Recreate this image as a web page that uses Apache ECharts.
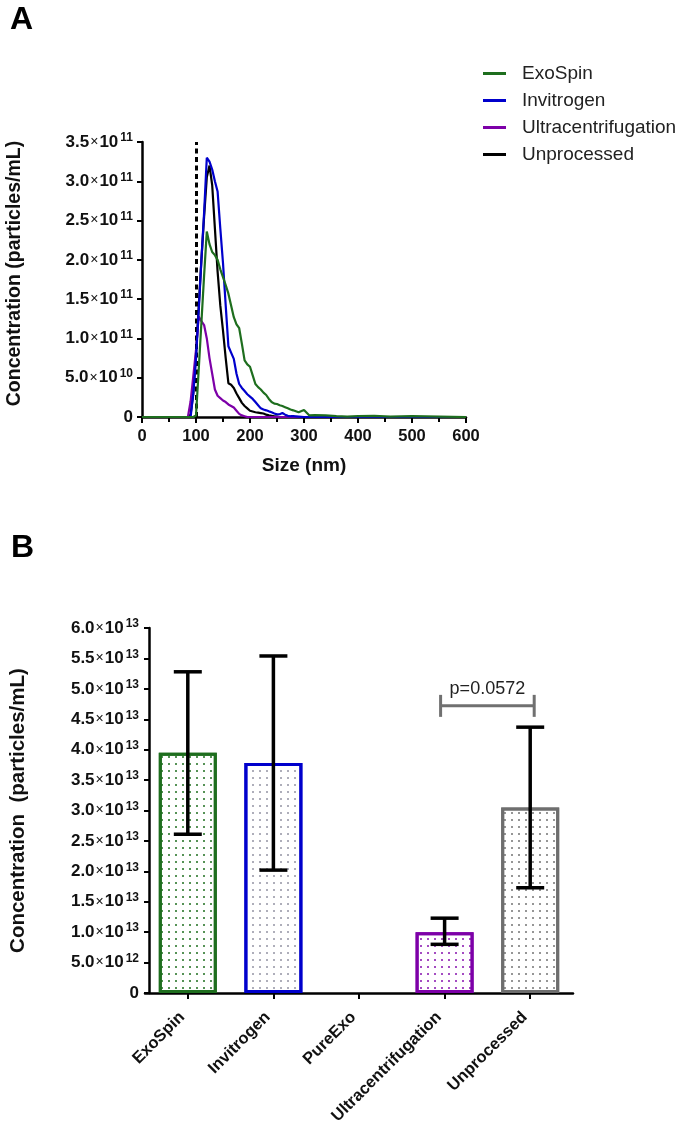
<!DOCTYPE html>
<html><head><meta charset="utf-8">
<script src="https://cdn.jsdelivr.net/npm/echarts@6/dist/echarts.min.js"></script>
<style>html,body{margin:0;padding:0;background:#fff}#c{width:686px;height:1140px}</style>
</head><body><div id="c"></div>
<script>
// ---------- Panel A data ----------
const sizeNm = [0,85,90,95,100,105,110,115,120,125,130,135,140,145,150,155,160,165,170,175,180,185,190,195,200,205,210,215,220,225,230,235,240,245,250,255,260,265,270,275,280,290,300,310,320,340,360,380,400,430,460,500,550,600];
const exoSpinConc = [0,0,0,0,0.02e11,0.6e11,1.2e11,1.8e11,2.36e11,2.2e11,2.1e11,2.06e11,2.0e11,1.88e11,1.78e11,1.68e11,1.57e11,1.42e11,1.27e11,1.18e11,1.13e11,0.93e11,0.72e11,0.67e11,0.64e11,0.53e11,0.42e11,0.38e11,0.35e11,0.31e11,0.28e11,0.23e11,0.19e11,0.17e11,0.165e11,0.15e11,0.14e11,0.125e11,0.11e11,0.095e11,0.085e11,0.06e11,0.09e11,0.02e11,0.025e11,0.02e11,0.01e11,0.005e11,0.01e11,0.015e11,0.005e11,0.01e11,0.005e11,0];
const invitrogenConc = [0,0,0,0.3e11,0.75e11,1.35e11,2.0e11,2.6e11,3.3e11,3.25e11,3.15e11,3.0e11,2.87e11,2.4e11,1.96e11,1.42e11,0.9e11,0.82e11,0.74e11,0.55e11,0.42e11,0.37e11,0.33e11,0.29e11,0.26e11,0.23e11,0.19e11,0.15e11,0.11e11,0.095e11,0.085e11,0.072e11,0.06e11,0.045e11,0.033e11,0.035e11,0.05e11,0.03e11,0.015e11,0.01e11,0.01e11,0.005e11,0,0,0,0,0,0,0,0,0,0,0,0];
const ultraConc = [0,0,0.2e11,0.52e11,0.85e11,1.28e11,1.22e11,1.17e11,1.0e11,0.75e11,0.55e11,0.35e11,0.27e11,0.24e11,0.21e11,0.19e11,0.16e11,0.14e11,0.12e11,0.08e11,0.04e11,0.02e11,0.01e11,0,0,0,0,0,0,0,0,0,0,0,0,0,0,0,0,0,0,0,0,0,0,0,0,0,0,0,0,0,0,0];
const unprocessedConc = [0,0,0.03e11,0.3e11,0.8e11,1.4e11,2.0e11,2.55e11,3.05e11,3.2e11,2.95e11,2.4e11,1.85e11,1.42e11,1.1e11,0.75e11,0.43e11,0.41e11,0.37e11,0.3e11,0.24e11,0.18e11,0.14e11,0.11e11,0.08e11,0.07e11,0.06e11,0.055e11,0.05e11,0.045e11,0.03e11,0.02e11,0.015e11,0.01e11,0.005e11,0,0,0,0,0,0,0,0,0,0,0,0,0,0,0,0,0,0,0];
const seriesNamesA = ['ExoSpin','Invitrogen','Ultracentrifugation','Unprocessed'];
const topYTickLabels = ['0','5.0×10^10','1.0×10^11','1.5×10^11','2.0×10^11','2.5×10^11','3.0×10^11','3.5×10^11'];
const topXTickLabels = ['0','100','200','300','400','500','600'];
const cutoffNm = 100;

// ---------- Panel B data ----------
const methods = ['ExoSpin','Invitrogen','PureExo','Ultracentrifugation','Unprocessed'];
const meanConc = [3.95e13, 3.78e13, null, 1.0e13, 3.05e13];
const errLow = [2.61e13, 2.02e13, null, 0.80e13, 1.73e13];
const errHigh = [5.28e13, 5.54e13, null, 1.23e13, 4.37e13];
const bottomYTickLabels = ['0','5.0×10^12','1.0×10^13','1.5×10^13','2.0×10^13','2.5×10^13','3.0×10^13','3.5×10^13','4.0×10^13','4.5×10^13','5.0×10^13','5.5×10^13','6.0×10^13'];
const pLabel = 'p=0.0572';
const pBracket = [3, 4, 4.72e13]; // from category, to category, height

// ---------- styling ----------
const FONT = '"Liberation Sans", Arial, sans-serif';
const lineColors = {ExoSpin:'#1e6e1e', Invitrogen:'#0000cc', Ultracentrifugation:'#7d00a8', Unprocessed:'#000000'};
const barBorder = ['#1e6e1e','#0000cc','#888888','#7d00a8','#6e6e6e'];
const barDots = ['rgba(30,110,30,0.75)','rgba(120,120,140,0.6)','#999','rgba(125,0,168,0.7)','rgba(80,80,80,0.6)'];

function sciLabel(list, interval) {
  return function (v) {
    const s = list[Math.round(v / interval)];
    if (s === undefined) return '';
    const m = s.match(/^(.*)×10\^(\d+)$/);
    if (!m) return '{m|' + s + '}';
    return '{m|' + m[1] + '}{x|×}{m|10}{s|' + m[2] + '}';
  };
}
const richSci = {
  m: {fontSize: 17, fontWeight: 'bold', color: '#111', fontFamily: FONT, lineHeight: 20},
  x: {fontSize: 14, color: '#111', fontFamily: FONT, lineHeight: 20, padding:[0,1,0,1]},
  s: {fontSize: 12, fontWeight: 'bold', color: '#111', fontFamily: FONT, verticalAlign: 'top', lineHeight: 12, padding:[0,0,0,2]}
};

const chart = echarts.init(document.getElementById('c'), null, {renderer: 'canvas'});

const lineData = {
  ExoSpin: exoSpinConc, Invitrogen: invitrogenConc,
  Ultracentrifugation: ultraConc, Unprocessed: unprocessedConc
};
const drawOrder = ['Unprocessed','Ultracentrifugation','Invitrogen','ExoSpin'];
const lineSeries = drawOrder.map((name, k) => ({
  type: 'line', name, xAxisIndex: 0, yAxisIndex: 0,
  data: sizeNm.map((x, i) => [x, lineData[name][i]]),
  symbol: 'none', lineStyle: {color: lineColors[name], width: 2.2}, itemStyle: {color: lineColors[name]},
  z: 3 + k, animation: false
}));
lineSeries.push({
  type: 'line', name: 'cutoff', xAxisIndex: 0, yAxisIndex: 0, data: [], z: 10,
  markLine: {
    symbol: ['none','none'], silent: true, label: {show: false}, animation: false,
    lineStyle: {color: '#000', width: 3, type: [5, 3.5]},
    data: [{xAxis: cutoffNm}]
  }
});

const barSeries = {
  type: 'bar', xAxisIndex: 1, yAxisIndex: 1, barWidth: 58, animation: false,
  data: methods.map((m, i) => meanConc[i] == null ? '-' : {
    value: meanConc[i],
    itemStyle: {
      color: '#ffffff', borderColor: barBorder[i], borderWidth: 3,
      decal: {symbol: 'rect', symbolSize: 1, dashArrayX: [1.3, 4.7], dashArrayY: [1.3, 4.7], color: barDots[i]}
    }
  })
};

const errData = [];
methods.forEach((m, i) => { if (meanConc[i] != null) errData.push([i, errLow[i], errHigh[i]]); });
const errSeries = {
  type: 'custom', xAxisIndex: 1, yAxisIndex: 1, z: 20, animation: false, silent: true,
  data: errData,
  renderItem(params, api) {
    const c = api.value(0);
    const lo = api.coord([c, api.value(1)]);
    const hi = api.coord([c, api.value(2)]);
    const hw = 14, st = {stroke: '#000', lineWidth: 3.5};
    return {type: 'group', children: [
      {type: 'line', shape: {x1: lo[0], y1: lo[1], x2: hi[0], y2: hi[1]}, style: st},
      {type: 'line', shape: {x1: lo[0]-hw, y1: lo[1], x2: lo[0]+hw, y2: lo[1]}, style: st},
      {type: 'line', shape: {x1: hi[0]-hw, y1: hi[1], x2: hi[0]+hw, y2: hi[1]}, style: st}
    ]};
  }
};
const bracketSeries = {
  type: 'custom', xAxisIndex: 1, yAxisIndex: 1, z: 20, animation: false, silent: true,
  data: [pBracket],
  renderItem(params, api) {
    const a = api.coord([api.value(0), api.value(2)]);
    const b = api.coord([api.value(1), api.value(2)]);
    const x1 = a[0] - 4, x2 = b[0] + 4, y = a[1];
    const st = {stroke: '#707070', lineWidth: 3};
    return {type: 'group', children: [
      {type: 'line', shape: {x1, y1: y, x2, y2: y}, style: st},
      {type: 'line', shape: {x1, y1: y - 11, x2: x1, y2: y + 11}, style: st},
      {type: 'line', shape: {x1: x2, y1: y - 11, x2, y2: y + 11}, style: st},
      {type: 'text', style: {x: (x1 + x2) / 2, y: y - 8, text: pLabel, fill: '#222', font: '18px ' + FONT, textAlign: 'center', textVerticalAlign: 'bottom'}}
    ]};
  }
};

const axisLineStyle = {color: '#000', width: 2.5};
const option = {
  backgroundColor: '#fff',
  animation: false,
  textStyle: {fontFamily: FONT},
  grid: [
    {left: 142, top: 142, width: 324, height: 275},
    {left: 139, top: 628, width: 434, height: 365}
  ],
  legend: {
    data: seriesNamesA, orient: 'vertical', left: 478, top: 59, itemGap: 8,
    icon: 'rect', itemWidth: 23, itemHeight: 3,
    textStyle: {fontSize: 19, color: '#222', fontFamily: FONT, padding: [0, 0, 0, 11]}
  },
  xAxis: [
    {
      type: 'value', gridIndex: 0, min: 0, max: 600, interval: 100,
      name: 'Size (nm)', nameLocation: 'middle', nameGap: 39,
      nameTextStyle: {fontSize: 19, fontWeight: 'bold', color: '#111', fontFamily: FONT},
      axisLine: {show: true, lineStyle: axisLineStyle},
      axisTick: {show: true, length: 6, lineStyle: {color: '#000', width: 2}},
      minorTick: {show: true, splitNumber: 2, length: 5, lineStyle: {color: '#000', width: 2}},
      splitLine: {show: false},
      axisLabel: {margin: 11, fontSize: 16.5, fontWeight: 'bold', color: '#111', fontFamily: FONT,
        formatter: v => topXTickLabels[Math.round(v / 100)]}
    },
    {
      type: 'category', gridIndex: 1, data: methods,
      axisLine: {show: true, lineStyle: axisLineStyle},
      axisTick: {show: true, alignWithLabel: true, length: 6, lineStyle: {color: '#000', width: 2}},
      axisLabel: {rotate: 45, margin: 16, padding: [0, 8, 0, 0], fontSize: 16.5, fontWeight: 'bold', color: '#111', fontFamily: FONT, interval: 0}
    }
  ],
  yAxis: [
    {
      type: 'value', gridIndex: 0, min: 0, max: 3.5e11, interval: 0.5e11,
      name: 'Concentration (particles/mL)', nameLocation: 'middle', nameGap: 117,
      nameTextStyle: {fontSize: 19.5, fontWeight: 'bold', color: '#111', fontFamily: FONT, padding: [0, 0, 0, 12]},
      axisLine: {show: true, lineStyle: axisLineStyle},
      axisTick: {show: true, length: 5, lineStyle: {color: '#000', width: 2}},
      splitLine: {show: false},
      axisLabel: {margin: 9, formatter: sciLabel(topYTickLabels, 0.5e11), rich: richSci}
    },
    {
      type: 'value', gridIndex: 1, min: 0, max: 6e13, interval: 5e12, offset: -4,
      name: 'Concentration  (particles/mL)', nameLocation: 'middle', nameGap: 120,
      nameTextStyle: {fontSize: 20.5, fontWeight: 'bold', color: '#111', fontFamily: FONT},
      axisLine: {show: true, lineStyle: axisLineStyle},
      axisTick: {show: true, length: 5, lineStyle: {color: '#000', width: 2}},
      splitLine: {show: false},
      axisLabel: {margin: 10, formatter: sciLabel(bottomYTickLabels, 5e12), rich: richSci}
    }
  ],
  graphic: [
    {type: 'text', left: 10, top: 4, style: {text: 'A', font: 'bold 32px ' + FONT, fill: '#000'}},
    {type: 'text', left: 11, top: 532, style: {text: 'B', font: 'bold 32px ' + FONT, fill: '#000'}}
  ],
  series: [...lineSeries, barSeries, errSeries, bracketSeries]
};
chart.setOption(option);
</script></body></html>
